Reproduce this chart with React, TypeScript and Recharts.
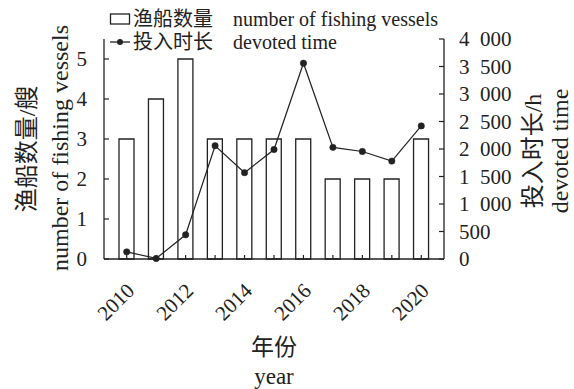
import React from 'react';
import { ComposedChart, Bar, Line, XAxis, YAxis, Customized } from 'recharts';

const years = ['2010', '2011', '2012', '2013', '2014', '2015', '2016', '2017', '2018', '2019', '2020'];
const vessels = [3, 4, 5, 3, 3, 3, 3, 2, 2, 2, 3];
const hours = [130, 10, 440, 2060, 1570, 1990, 3560, 2030, 1955, 1780, 2420];
const leftTicks = [0, 1, 2, 3, 4, 5];
const rightTicks = [0, 500, 1000, 1500, 2000, 2500, 3000, 3500, 4000];
const legendCn = ['渔船数量', '投入时长'];
const legendEn = ['number of fishing vessels', 'devoted time'];

const data = years.map((y, i) => ({ year: y, vessels: vessels[i], hours: hours[i] }));

const FONT = "'Liberation Serif', 'Times New Roman', 'Noto Sans CJK SC', serif";
const INK = '#222';
const FS = 20;
const TFS = 21;
const LFS = 24;

const fmtThousands = (v: number) => {
  if (v < 1000) return String(v);
  const th = Math.floor(v / 1000);
  const rest = String(v % 1000).padStart(3, '0');
  return th + '\u2002' + rest;
};

const LeftTick = (p: any) => (
  <g>
    <line x1={p.x} y1={p.y} x2={p.x + 5} y2={p.y} stroke={INK} strokeWidth={1.2} />
    <text x={p.x - 17} y={p.y} textAnchor="end" dominantBaseline="central" fontFamily={FONT} fontSize={TFS} fill={INK}>
      {p.payload.value}
    </text>
  </g>
);

const RightTick = (p: any) => (
  <g>
    <line x1={p.x} y1={p.y} x2={p.x - 5} y2={p.y} stroke={INK} strokeWidth={1.2} />
    <text x={p.x + 15} y={p.y} textAnchor="start" dominantBaseline="central" fontFamily={FONT} fontSize={TFS} fill={INK}>
      {fmtThousands(p.payload.value)}
    </text>
  </g>
);

const XTick = (p: any) => {
  const yr = Number(p.payload.value);
  const tx = p.x + 9;
  const ty = p.y + 33;
  return (
    <g>
      <line x1={p.x} y1={p.y} x2={p.x} y2={p.y - 4} stroke={INK} strokeWidth={1.2} />
      {yr % 2 === 0 && (
        <text x={tx} y={ty} textAnchor="end" transform={`rotate(-45 ${tx} ${ty})`} fontFamily={FONT} fontSize={TFS} fill={INK}>
          {p.payload.value}
        </text>
      )}
    </g>
  );
};

const LeftLabel = (props: any) => {
  const vb = props.viewBox;
  const cy = vb.y + vb.height / 2 + 0;
  return (
    <g fontFamily={FONT} fontSize={LFS} fill={INK}>
      <text x={27} y={cy} textAnchor="middle" dominantBaseline="central" transform={`rotate(-90 27 ${cy})`}>渔船数量/艘</text>
      <text x={60} y={cy - 1} textAnchor="middle" dominantBaseline="central" transform={`rotate(-90 60 ${cy - 1})`}>number of fishing vessels</text>
    </g>
  );
};

const RightLabel = (props: any) => {
  const vb = props.viewBox;
  const cy = vb.y + vb.height / 2 + 2;
  const x1 = vb.x + 89;
  const x2 = vb.x + 116;
  return (
    <g fontFamily={FONT} fontSize={LFS} fill={INK}>
      <text x={x1} y={cy} textAnchor="middle" dominantBaseline="central" transform={`rotate(-90 ${x1} ${cy})`}>投入时长/h</text>
      <text x={x2} y={cy} textAnchor="middle" dominantBaseline="central" transform={`rotate(-90 ${x2} ${cy})`}>devoted time</text>
    </g>
  );
};

const BottomLabel = (props: any) => {
  const vb = props.viewBox;
  const cx = vb.x + vb.width / 2;
  return (
    <g fontFamily={FONT} fontSize={LFS - 1} fill={INK}>
      <text x={cx} y={347} textAnchor="middle" dominantBaseline="central">年份</text>
      <text x={cx} y={376} textAnchor="middle" dominantBaseline="central">year</text>
    </g>
  );
};

const LegendSvg = () => {
  const x0 = 110;
  const rows = [19, 42];
  return (
    <g fontFamily={FONT} fontSize={FS} fill={INK}>
      <rect x={x0 + 0.5} y={rows[0] - 5} width={19} height={10} fill="#fff" stroke={INK} strokeWidth={1.3} />
      <line x1={x0} y1={rows[1]} x2={x0 + 20} y2={rows[1]} stroke={INK} strokeWidth={1.3} />
      <circle cx={x0 + 10} cy={rows[1]} r={3} fill={INK} />
      {rows.map((ry, i) => (
        <g key={i}>
          <text x={x0 + 23} y={ry} dominantBaseline="central">{legendCn[i]}</text>
          <text x={233} y={ry} dominantBaseline="central">{legendEn[i]}</text>
        </g>
      ))}
    </g>
  );
};

export default function App() {
  return (
    <div style={{ position: 'absolute', left: 0, top: 0, width: 574, height: 389, background: '#fff' }}>
      <ComposedChart
        width={574}
        height={389}
        data={data}
        margin={{ top: 39, right: 0, left: 0, bottom: 70 }}
        barCategoryGap={0}
      >
        <XAxis
          dataKey="year"
          xAxisId="x"
          height={60}
          interval={0}
          padding={{ left: 8, right: 8 }}
          tickLine={false}
          tickSize={0}
          tickMargin={0}
          tick={<XTick />}
          axisLine={{ stroke: INK, strokeWidth: 1.3 }}
          label={<BottomLabel />}
        />
        <YAxis
          yAxisId="left"
          orientation="left"
          width={104}
          domain={[0, 5.5]}
          ticks={leftTicks}
          interval={0}
          tickLine={false}
          tickSize={0}
          tickMargin={0}
          tick={<LeftTick />}
          axisLine={{ stroke: INK, strokeWidth: 1.3 }}
          label={<LeftLabel />}
        />
        <YAxis
          yAxisId="right"
          orientation="right"
          width={130}
          domain={[0, 4000]}
          ticks={rightTicks}
          interval={0}
          tickLine={false}
          tickSize={0}
          tickMargin={0}
          tick={<RightTick />}
          axisLine={{ stroke: INK, strokeWidth: 1.3 }}
          label={<RightLabel />}
        />
        <Bar
          xAxisId="x"
          yAxisId="left"
          dataKey="vessels"
          barSize={15}
          fill="#fff"
          stroke={INK}
          strokeWidth={1.3}
          isAnimationActive={false}
        />
        <Line
          xAxisId="x"
          yAxisId="right"
          dataKey="hours"
          type="linear"
          stroke={INK}
          strokeWidth={1.2}
          dot={{ r: 3.2, fill: INK, stroke: INK, strokeWidth: 0.5 }}
          activeDot={false}
          isAnimationActive={false}
        />
        <Customized component={LegendSvg} />
      </ComposedChart>
    </div>
  );
}
